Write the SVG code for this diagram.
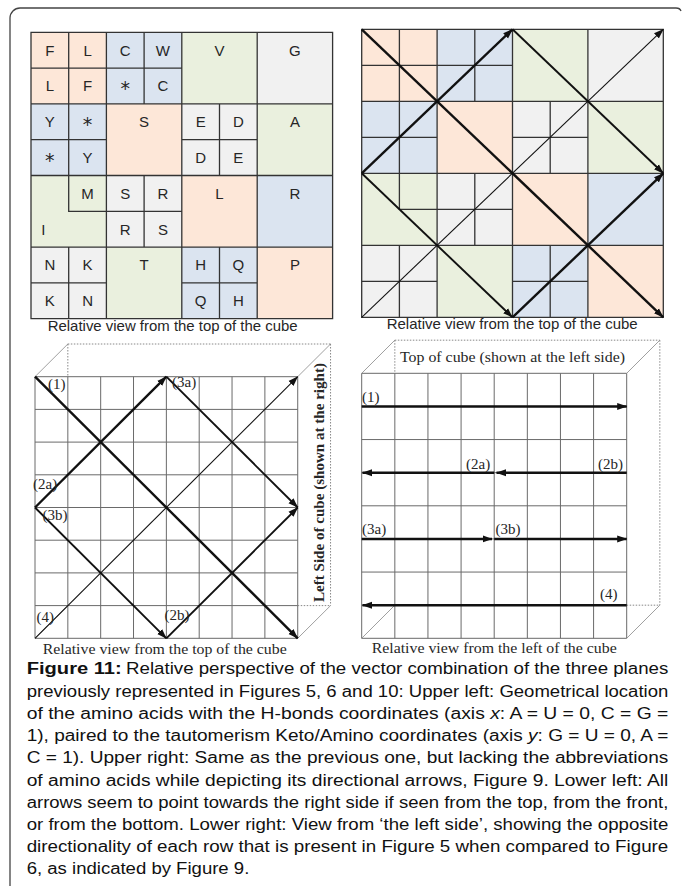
<svg xmlns="http://www.w3.org/2000/svg" xmlns:xlink="http://www.w3.org/1999/xlink" width="683" height="886" viewBox="0 0 683 886">
<style>
.pe{fill:#FDE7D8}.bl{fill:#DBE4F0}.gr{fill:#EAF0DE}.gy{fill:#F1F1F1}
.tl{fill:none;stroke:#333;stroke-width:1.3}
.lab{font-family:"Liberation Sans",Arial,sans-serif;font-size:15px;fill:#262626;text-anchor:middle}
.ast{font-family:"DejaVu Sans",sans-serif;font-size:19px;fill:#262626;text-anchor:middle}
.cap{font-family:"Liberation Sans",Arial,sans-serif;font-size:14.5px;fill:#262626}
.grid{fill:none;stroke:#6a6a6a;stroke-width:1}
.dot{fill:none;stroke:#888;stroke-width:1;stroke-dasharray:1.5 1.5}
.edge{fill:none;stroke:#888;stroke-width:0.8}
.ar{fill:none;stroke:#111;marker-end:url(#ah)}
.w3{stroke-width:2.4}.w2{stroke-width:1.9}.w1{stroke-width:1.1}
.sl{font-family:"Liberation Serif","Times New Roman",serif;font-size:15px;fill:#262626}
.scap{font-family:"Liberation Serif","Times New Roman",serif;font-size:14.5px;fill:#262626}
.body{font-family:"Liberation Sans",Arial,sans-serif;font-size:16px;fill:#111}
</style>
<defs>
<marker id="ah" markerUnits="userSpaceOnUse" markerWidth="10" markerHeight="8" viewBox="0 0 10 8" refX="9.5" refY="4" orient="auto">
<path d="M0,0.5 L10,4 L0,7.5 Z" fill="#111"/>
</marker>
<g id="tiles">
<rect class="pe" x="0" y="0" width="75.4" height="71.6"/>
<rect class="bl" x="75.4" y="0" width="75.4" height="71.6"/>
<rect class="gr" x="150.8" y="0" width="75.4" height="71.6"/>
<rect class="gy" x="226.2" y="0" width="75.4" height="71.6"/>
<rect class="bl" x="0" y="71.6" width="75.4" height="71.6"/>
<rect class="pe" x="75.4" y="71.6" width="75.4" height="71.6"/>
<rect class="gy" x="150.8" y="71.6" width="75.4" height="71.6"/>
<rect class="gr" x="226.2" y="71.6" width="75.4" height="71.6"/>
<rect class="gr" x="0" y="143.2" width="75.4" height="71.6"/>
<rect class="gy" x="75.4" y="143.2" width="75.4" height="71.6"/>
<rect class="pe" x="150.8" y="143.2" width="75.4" height="71.6"/>
<rect class="bl" x="226.2" y="143.2" width="75.4" height="71.6"/>
<rect class="gy" x="0" y="214.8" width="75.4" height="71.6"/>
<rect class="gr" x="75.4" y="214.8" width="75.4" height="71.6"/>
<rect class="bl" x="150.8" y="214.8" width="75.4" height="71.6"/>
<rect class="pe" x="226.2" y="214.8" width="75.4" height="71.6"/>
<path class="tl" d="M0,0H301.6V286.4H0Z M75.4,0V286.4 M150.8,0V286.4 M226.2,0V286.4 M0,71.6H301.6 M0,143.2H301.6 M0,214.8H301.6 M0,35.8H150.8 M37.7,0V71.6 M113.1,0V71.6 M0,107.4H75.4 M37.7,71.6V143.2 M150.8,107.4H226.2 M188.5,71.6V143.2 M37.7,143.2V179H75.4 M75.4,179H150.8 M113.1,143.2V214.8 M0,250.6H75.4 M37.7,214.8V286.4 M150.8,250.6H226.2 M188.5,214.8V286.4"/>
</g>
</defs>

<path d="M10,886 V18 A10,10 0 0 1 20,8 H676 Q680,8 681,11" fill="none" stroke="#444" stroke-width="1.3"/>

<!-- Upper left: amino acid grid -->
<g id="upper-left">
<use xlink:href="#tiles" transform="translate(31,32.3)"/>
<g id="upper-left-labels">
<text class="lab" x="49.85" y="55.5">F</text><text class="lab" x="87.55" y="55.5">L</text>
<text class="lab" x="49.85" y="91.3">L</text><text class="lab" x="87.55" y="91.3">F</text>
<text class="lab" x="125.25" y="55.5">C</text><text class="lab" x="162.95" y="55.5">W</text>
<text class="ast" x="125.25" y="95">*</text><text class="lab" x="162.95" y="91.3">C</text>
<text class="lab" x="219.5" y="55.5">V</text>
<text class="lab" x="294.9" y="55.5">G</text>
<text class="lab" x="49.85" y="127.1">Y</text><text class="ast" x="87.55" y="130.8">*</text>
<text class="ast" x="49.85" y="166.6">*</text><text class="lab" x="87.55" y="162.9">Y</text>
<text class="lab" x="144.1" y="127.1">S</text>
<text class="lab" x="200.65" y="127.1">E</text><text class="lab" x="238.35" y="127.1">D</text>
<text class="lab" x="200.65" y="162.9">D</text><text class="lab" x="238.35" y="162.9">E</text>
<text class="lab" x="294.9" y="127.1">A</text>
<text class="lab" x="87.55" y="198.7">M</text>
<text class="lab" x="43.3" y="234.5">I</text>
<text class="lab" x="125.25" y="198.7">S</text><text class="lab" x="162.95" y="198.7">R</text>
<text class="lab" x="125.25" y="234.5">R</text><text class="lab" x="162.95" y="234.5">S</text>
<text class="lab" x="219.5" y="198.7">L</text>
<text class="lab" x="294.9" y="198.7">R</text>
<text class="lab" x="49.85" y="270.3">N</text><text class="lab" x="87.55" y="270.3">K</text>
<text class="lab" x="49.85" y="306.1">K</text><text class="lab" x="87.55" y="306.1">N</text>
<text class="lab" x="144.1" y="270.3">T</text>
<text class="lab" x="200.65" y="270.3">H</text><text class="lab" x="238.35" y="270.3">Q</text>
<text class="lab" x="200.65" y="306.1">Q</text><text class="lab" x="238.35" y="306.1">H</text>
<text class="lab" x="294.9" y="270.3">P</text>
</g>
<text class="cap" x="47.7" y="331" textLength="250" lengthAdjust="spacingAndGlyphs">Relative view from the top of the cube</text>
</g>

<!-- Upper right: grid with arrows -->
<g id="upper-right">
<use xlink:href="#tiles" transform="translate(361.7,29.3) scale(1,1.00559)"/>
<g id="upper-right-arrows">
<path class="ar w3" d="M361.7,29.3 L663.3,317.3"/>
<path class="ar w3" d="M361.7,173.3 L512.5,29.3"/>
<path class="ar w2" d="M512.5,29.3 L663.3,173.3"/>
<path class="ar w1" d="M361.7,317.3 L663.3,29.3"/>
<path class="ar w2" d="M361.7,173.3 L512.5,317.3"/>
<path class="ar w3" d="M512.5,317.3 L663.3,173.3"/>
</g>
<text class="cap" x="386.7" y="329.3" textLength="251" lengthAdjust="spacingAndGlyphs">Relative view from the top of the cube</text>
</g>

<!-- Lower left: cube seen from the top -->
<g id="lower-left">
<path class="grid" d="M35,376.7V638.3 M67.84,376.7V638.3 M100.68,376.7V638.3 M133.52,376.7V638.3 M166.36,376.7V638.3 M199.2,376.7V638.3 M232.04,376.7V638.3 M264.88,376.7V638.3 M297.72,376.7V638.3 M35,376.7H297.72 M35,409.4H297.72 M35,442.1H297.72 M35,474.8H297.72 M35,507.5H297.72 M35,540.2H297.72 M35,572.9H297.72 M35,605.6H297.72 M35,638.3H297.72"/>
<path class="dot" d="M67.84,344H330.56 M330.56,344V605.6 M297.72,605.6H330.56 M67.84,344V376.7"/>
<path class="edge" d="M35,376.7L67.84,344 M297.72,376.7L330.56,344 M35,638.3L67.84,605.6 M297.72,638.3L330.56,605.6"/>
<g id="lower-left-arrows">
<path class="ar w3" d="M35,376.7 L297.72,638.3"/>
<path class="ar w3" d="M35,507.5 L166.36,376.7"/>
<path class="ar w2" d="M166.36,376.7 L297.72,507.5"/>
<path class="ar w1" d="M35,638.3 L297.72,376.7"/>
<path class="ar w2" d="M35,507.5 L166.36,638.3"/>
<path class="ar w2" d="M166.36,638.3 L297.72,507.5"/>
</g>
<text class="sl" x="48" y="389">(1)</text>
<text class="sl" x="172" y="387">(3a)</text>
<text class="sl" x="33" y="488.5">(2a)</text>
<text class="sl" x="42.5" y="519.5">(3b)</text>
<text class="sl" x="36.5" y="622">(4)</text>
<text class="sl" x="164.5" y="619.5">(2b)</text>
<text class="sl" transform="translate(323.5,482.5) rotate(-90)" text-anchor="middle" font-weight="bold" font-size="14" textLength="239" lengthAdjust="spacingAndGlyphs">Left Side of cube (shown at the right)</text>
<text class="scap" x="42.7" y="653.5" textLength="244" lengthAdjust="spacingAndGlyphs">Relative view from the top of the cube</text>
</g>

<!-- Lower right: cube seen from the left -->
<g id="lower-right">
<path class="grid" d="M361.7,373.3V638.3 M394.83,373.3V638.3 M427.95,373.3V638.3 M461.08,373.3V638.3 M494.2,373.3V638.3 M527.33,373.3V638.3 M560.45,373.3V638.3 M593.58,373.3V638.3 M626.7,373.3V638.3 M361.7,373.3H626.7 M361.7,406.43H626.7 M361.7,439.55H626.7 M361.7,472.68H626.7 M361.7,505.8H626.7 M361.7,538.93H626.7 M361.7,572.05H626.7 M361.7,605.18H626.7 M361.7,638.3H626.7"/>
<path class="dot" d="M394.83,340.18H659.83 M659.83,340.18V605.18 M626.7,605.18H659.83 M394.83,340.18V373.3"/>
<path class="edge" d="M361.7,373.3L394.83,340.18 M626.7,373.3L659.83,340.18 M361.7,638.3L394.83,605.18 M626.7,638.3L659.83,605.18"/>
<text class="sl" x="400" y="362" font-size="16" textLength="225" lengthAdjust="spacingAndGlyphs">Top of cube (shown at the left side)</text>
<g id="lower-right-arrows">
<path class="ar w3" d="M361.7,406.43 H626.7"/>
<path class="ar w3" d="M626.7,472.68 H496.5"/>
<path class="ar w3" d="M494.2,472.68 H362.5"/>
<path class="ar w3" d="M361.7,538.93 H492"/>
<path class="ar w3" d="M494.2,538.93 H626.7"/>
<path class="ar w3" d="M626.7,605.18 H362.5"/>
</g>
<text class="sl" x="362" y="402">(1)</text>
<text class="sl" x="466" y="468.5">(2a)</text>
<text class="sl" x="598" y="468.5">(2b)</text>
<text class="sl" x="362" y="534">(3a)</text>
<text class="sl" x="495.5" y="534">(3b)</text>
<text class="sl" x="600" y="599">(4)</text>
<text class="scap" x="371.7" y="652.5" textLength="245" lengthAdjust="spacingAndGlyphs">Relative view from the left of the cube</text>
</g>

<!-- Caption -->
<g id="caption">
<text class="body" x="26.7" y="674.3" font-weight="bold" textLength="95" lengthAdjust="spacingAndGlyphs">Figure 11:</text>
<text class="body" x="126" y="674.3" textLength="542.3" lengthAdjust="spacingAndGlyphs">Relative perspective of the vector combination of the three planes</text>
<text class="body" x="26.7" y="696.5" textLength="641.6" lengthAdjust="spacingAndGlyphs">previously represented in Figures 5, 6 and 10: Upper left: Geometrical location</text>
<text class="body" x="26.7" y="718.7" textLength="641.6" lengthAdjust="spacingAndGlyphs">of the amino acids with the H-bonds coordinates (axis <tspan font-style="italic">x</tspan>: A = U = 0, C = G =</text>
<text class="body" x="26.7" y="741" textLength="641.6" lengthAdjust="spacingAndGlyphs">1), paired to the tautomerism Keto/Amino coordinates (axis <tspan font-style="italic">y</tspan>: G = U = 0, A =</text>
<text class="body" x="26.7" y="763.2" textLength="641.6" lengthAdjust="spacingAndGlyphs">C = 1). Upper right: Same as the previous one, but lacking the abbreviations</text>
<text class="body" x="26.7" y="785.5" textLength="641.6" lengthAdjust="spacingAndGlyphs">of amino acids while depicting its directional arrows, Figure 9. Lower left: All</text>
<text class="body" x="26.7" y="807.7" textLength="641.6" lengthAdjust="spacingAndGlyphs">arrows seem to point towards the right side if seen from the top, from the front,</text>
<text class="body" x="26.7" y="830" textLength="641.6" lengthAdjust="spacingAndGlyphs">or from the bottom. Lower right: View from ‘the left side’, showing the opposite</text>
<text class="body" x="26.7" y="852.2" textLength="641.6" lengthAdjust="spacingAndGlyphs">directionality of each row that is present in Figure 5 when compared to Figure</text>
<text class="body" x="26.7" y="874.4" textLength="222.6" lengthAdjust="spacingAndGlyphs">6, as indicated by Figure 9.</text>
</g>
</svg>
